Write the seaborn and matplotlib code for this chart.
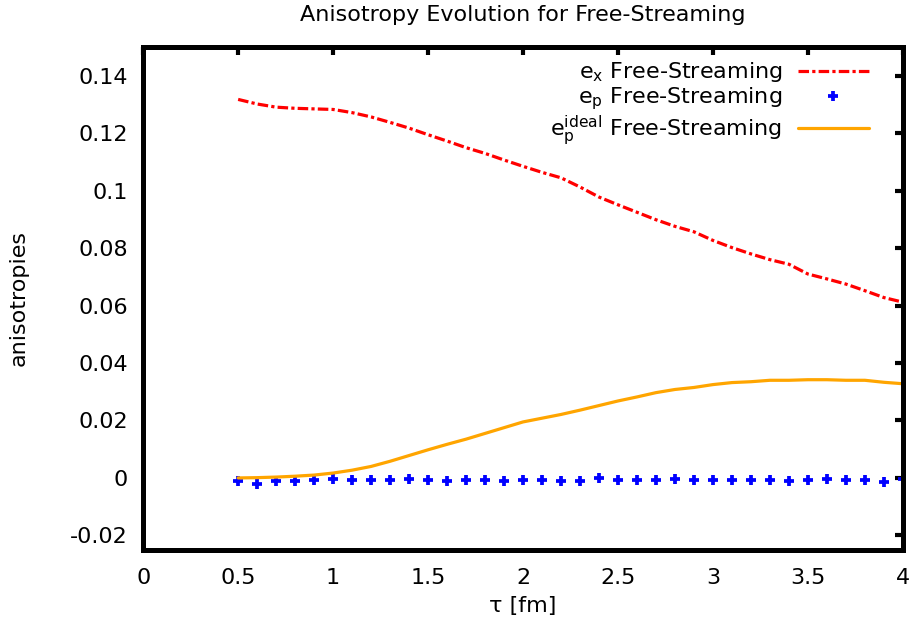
import numpy as np
import pandas as pd
import matplotlib
matplotlib.use("Agg")
import matplotlib.pyplot as plt
import seaborn as sns

# ---- data ----
tau = [0.5, 0.6, 0.7, 0.8, 0.9, 1.0, 1.1, 1.2, 1.3, 1.4, 1.5, 1.6, 1.7, 1.8,
       1.9, 2.0, 2.1, 2.2, 2.3, 2.4, 2.5, 2.6, 2.7, 2.8, 2.9, 3.0, 3.1, 3.2,
       3.3, 3.4, 3.5, 3.6, 3.7, 3.8, 3.9, 4.0]

ex_fs = [0.1318, 0.1302, 0.1291, 0.1287, 0.1285, 0.1283, 0.1272, 0.1257,
         0.1238, 0.1218, 0.1195, 0.1173, 0.1150, 0.1130, 0.1107, 0.1085,
         0.1064, 0.1045, 0.1013, 0.0978, 0.0951, 0.0925, 0.0899, 0.0876,
         0.0857, 0.0827, 0.0802, 0.0780, 0.0760, 0.0744, 0.0710, 0.0693,
         0.0675, 0.0652, 0.0628, 0.0612]

ep_fs = [-0.0012, -0.0020, -0.0009, -0.0009, -0.0008, -0.0002, -0.0006,
         -0.0008, -0.0006, -0.0002, -0.0006, -0.0012, -0.0006, -0.0006,
         -0.0009, -0.0006, -0.0008, -0.0012, -0.0009, 0.0000, -0.0008,
         -0.0008, -0.0008, -0.0003, -0.0008, -0.0008, -0.0008, -0.0008,
         -0.0008, -0.0012, -0.0008, -0.0002, -0.0008, -0.0008, -0.0015,
         -0.0002]

ep_ideal_fs = [0.0000, 0.0001, 0.0003, 0.0006, 0.0010, 0.0017, 0.0027,
               0.0040, 0.0058, 0.0078, 0.0098, 0.0117, 0.0135, 0.0155,
               0.0175, 0.0195, 0.0208, 0.0221, 0.0236, 0.0252, 0.0268,
               0.0282, 0.0297, 0.0308, 0.0315, 0.0325, 0.0332, 0.0335,
               0.0340, 0.0340, 0.0342, 0.0342, 0.0340, 0.0340, 0.0333,
               0.0328]

x_ticks = [0, 0.5, 1, 1.5, 2, 2.5, 3, 3.5, 4]
x_tick_labels = ["0", "0.5", "1", "1.5", "2", "2.5", "3", "3.5", "4"]
y_ticks = [-0.02, 0, 0.02, 0.04, 0.06, 0.08, 0.1, 0.12, 0.14]
y_tick_labels = ["-0.02", "0", "0.02", "0.04", "0.06", "0.08", "0.1", "0.12", "0.14"]

labels = [r"$\mathregular{e_x}$ Free-Streaming",
          r"$\mathregular{e_p}$ Free-Streaming",
          r"$\mathregular{e^{ideal}_p}$ Free-Streaming"]

df = pd.DataFrame({"tau": tau, "ex": ex_fs, "ep": ep_fs, "epi": ep_ideal_fs})

# ---- style ----
sns.set_theme(style="white", rc={"text.color": "black",
                                 "axes.labelcolor": "black",
                                 "xtick.color": "black",
                                 "ytick.color": "black"})
plt.rcParams["font.family"] = ["DejaVu Sans"]
plt.rcParams["mathtext.fontset"] = "dejavusans"
plt.rcParams["axes.unicode_minus"] = False

FS = 16
fig = plt.figure(figsize=(9.12, 6.37), dpi=100)
ax = fig.add_axes([0.157, 0.137, 0.833, 0.789])

lw = 2.3
sns.lineplot(data=df, x="tau", y="ex", ax=ax, color="#FF0000", lw=lw,
             linestyle=(0, (3.3, 1.0, 1.0, 1.0)), label=labels[0])
sns.lineplot(data=df, x="tau", y="ep", ax=ax, color="#0000FF", linestyle="",
             marker="+", markersize=7.5, markeredgewidth=2.7,
             markeredgecolor="#0000FF", label=labels[1])
sns.lineplot(data=df, x="tau", y="epi", ax=ax, color="#FFA500", lw=lw,
             label=labels[2])

ax.set_xlim(0, 4)
ax.set_ylim(-0.025, 0.15)
ax.set_xticks(x_ticks)
ax.set_xticklabels(x_tick_labels)
ax.set_yticks(y_ticks)
ax.set_yticklabels(y_tick_labels)

for s in ax.spines.values():
    s.set_linewidth(3.6)
    s.set_color("black")
ax.tick_params(axis="both", which="major", direction="in", length=6, width=3,
               labelsize=FS, colors="black", top=True, right=True)
ax.tick_params(axis="x", pad=13)
ax.tick_params(axis="y", pad=11)

ax.set_xlabel("\u03c4 [fm]", fontsize=FS, labelpad=6, color="black")
ax.set_ylabel("anisotropies", fontsize=FS, labelpad=30, color="black")
ax.set_title("Anisotropy Evolution for Free-Streaming", fontsize=FS, pad=19,
             color="black")

leg = ax.legend(loc="upper right", frameon=False, fontsize=FS,
                markerfirst=False, handlelength=3.2, handletextpad=0.7,
                labelspacing=0.05, borderaxespad=0.2,
                bbox_to_anchor=(0.973, 1.0))
for t in leg.get_texts():
    t.set_color("black")
for col in leg._legend_handle_box.get_children():
    col.align = "right"

fig.savefig("out.png", dpi=100)
